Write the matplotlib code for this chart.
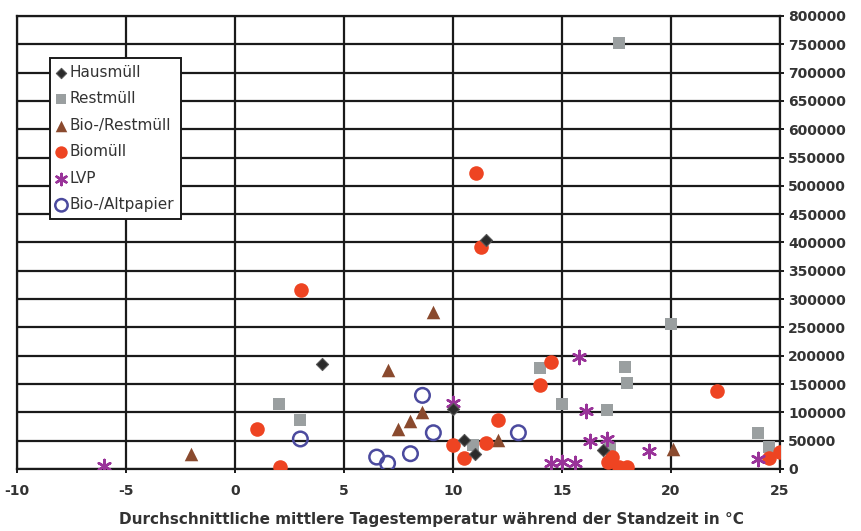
import matplotlib.pyplot as plt

plt.rcParams['font.family'] = ['DejaVu Sans']
plt.rcParams['axes.unicode_minus'] = False

# Werte (Temperatur in °C, Menge)
haus_x = [4.0, 11.5, 10.5, 11.0, 10.0, 16.9]
haus_y = [185000, 405000, 52000, 26000, 106000, 34000]

rest_x = [17.6, 20.0, 2.0, 3.0, 14.0, 15.0, 17.9, 18.0, 17.05, 24.0, 24.5, 17.2, 10.9]
rest_y = [752000, 256000, 115000, 86000, 178000, 115000, 180000, 152000, 104000, 64000, 39000, 37000, 42000]

biorest_x = [-2.0, 9.1, 7.0, 8.6, 8.05, 7.5, 12.05, 20.1]
biorest_y = [26000, 278000, 175000, 101000, 84000, 71000, 52000, 35000]

bio_x = [11.05, 11.3, 3.05, 1.0, 2.05, 14.5, 14.0, 12.05, 10.0, 10.5, 11.5,
         22.1, 17.1, 17.6, 18.0, 17.3, 24.5, 25.0]
bio_y = [523000, 392000, 316000, 70000, 3000, 189000, 148000, 87000, 43000, 19000, 45000,
         137000, 12000, 3000, 4000, 22000, 20000, 30000]

lvp_x = [-6.0, 10.0, 15.8, 16.1, 16.3, 17.05, 19.0, 14.5, 15.0, 15.6, 24.0]
lvp_y = [5000, 117000, 197000, 102000, 50000, 53000, 32000, 10000, 12000, 10000, 18000]

altp_x = [3.0, 8.6, 9.1, 6.5, 7.0, 8.05, 13.0]
altp_y = [53000, 130000, 64000, 21000, 10000, 27000, 64000]

fig = plt.figure(figsize=(8.61, 5.31), dpi=100)
ax = fig.add_axes([0.0197, 0.1168, 0.8862, 0.8531])

ax.scatter(haus_x, haus_y, marker='D', s=38, color='#2b2b2b', edgecolors='#555555', linewidths=0.8, label='Hausmüll', zorder=4)
ax.scatter(rest_x, rest_y, marker='s', s=70, color='#9a9fa0', linewidths=0, label='Restmüll', zorder=3)
ax.scatter(biorest_x, biorest_y, marker='^', s=95, color='#8a4a2e', linewidths=0, label='Bio-/Restmüll', zorder=3)
ax.scatter(bio_x, bio_y, marker='o', s=110, color='#ee4422', linewidths=0, label='Biomüll', zorder=3)
ax.scatter(lvp_x, lvp_y, marker=(6, 2, 0), s=90, color='#993399', linewidths=1.8, label='LVP', zorder=3)
ax.scatter(altp_x, altp_y, marker='o', s=110, facecolors='none', edgecolors='#4b4a9e', linewidths=1.8,
           label='Bio-/Altpapier', zorder=3)

ax.set_xlim(-10, 25)
ax.set_ylim(0, 800000)
ax.set_xticks(range(-10, 26, 5))
ax.set_yticks(range(0, 800001, 50000))
ax.yaxis.tick_right()
ax.grid(True, color='#1a1a1a', linewidth=1.6)
ax.set_axisbelow(True)
for s in ax.spines.values():
    s.set_linewidth(1.6)
    s.set_color('#1a1a1a')
ax.tick_params(axis='both', direction='inout', length=6, width=1.4, color='#1a1a1a',
               labelsize=10, labelcolor='#333333')
ax.tick_params(axis='y', pad=3)
ax.tick_params(axis='x', pad=8)
for lab in ax.get_xticklabels() + ax.get_yticklabels():
    lab.set_fontweight('bold')

ax.set_xlabel('Durchschnittliche mittlere Tagestemperatur während der Standzeit in °C',
              fontsize=11, fontweight='bold', color='#333333')
ax.xaxis.set_label_coords(0.543, -0.095)

leg = ax.legend(loc='upper left', bbox_to_anchor=(0.0433, 0.907), borderaxespad=0,
                fancybox=False, frameon=True, fontsize=11, handlelength=0.6,
                handletextpad=0.25, labelspacing=0.75, borderpad=0.45, scatterpoints=1,
                markerscale=0.85)
leg.get_frame().set_edgecolor('#1a1a1a')
leg.get_frame().set_linewidth(1.4)
leg.get_frame().set_alpha(1)
for t in leg.get_texts():
    t.set_color('#333333')

fig.savefig('out.png', dpi=100)
